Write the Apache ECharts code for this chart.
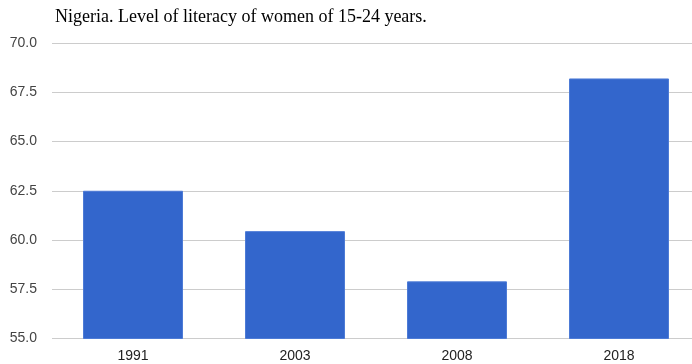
<!DOCTYPE html>
<html><head><meta charset="utf-8">
<script src="https://cdn.jsdelivr.net/npm/echarts@6/dist/echarts.min.js"></script>
<style>html,body{margin:0;padding:0;background:#fff;overflow:hidden;width:692px;height:364px;}#c{width:700px;height:364px;}</style>
</head><body><div id="c"></div>
<script>
const titleText = "Nigeria. Level of literacy of women of 15-24 years.";
const categories = ["1991", "2003", "2008", "2018"];
const values = [62.5, 60.45, 57.9, 68.2];
const yMin = 55, yMax = 70, yStep = 2.5;

const chart = echarts.init(document.getElementById('c'));
chart.setOption({
  animation: false,
  backgroundColor: '#fff',
  title: {
    text: titleText,
    left: 50, top: 3,
    textStyle: {fontFamily: 'Liberation Serif', fontSize: 18, fontWeight: 'normal', color: '#000'}
  },
  grid: {left: 52, top: 43, right: 0, bottom: 25.5, containLabel: false},
  xAxis: {
    type: 'category', data: categories,
    axisLine: {show: false}, axisTick: {show: false},
    axisLabel: {fontFamily: 'Liberation Sans', fontSize: 14, color: '#222', margin: 11}
  },
  yAxis: {
    type: 'value', min: yMin, max: yMax, interval: yStep,
    axisLine: {show: false}, axisTick: {show: false},
    splitLine: {lineStyle: {color: '#cccccc', width: 1}},
    axisLabel: {fontFamily: 'Liberation Sans', fontSize: 14, color: '#444', margin: 15,
      formatter: v => v.toFixed(1)}
  },
  series: [{
    type: 'bar', data: values, barWidth: 100,
    itemStyle: {color: '#3366cc', borderColor: '#4d7bd6', borderWidth: 1}
  }]
});
</script></body></html>
